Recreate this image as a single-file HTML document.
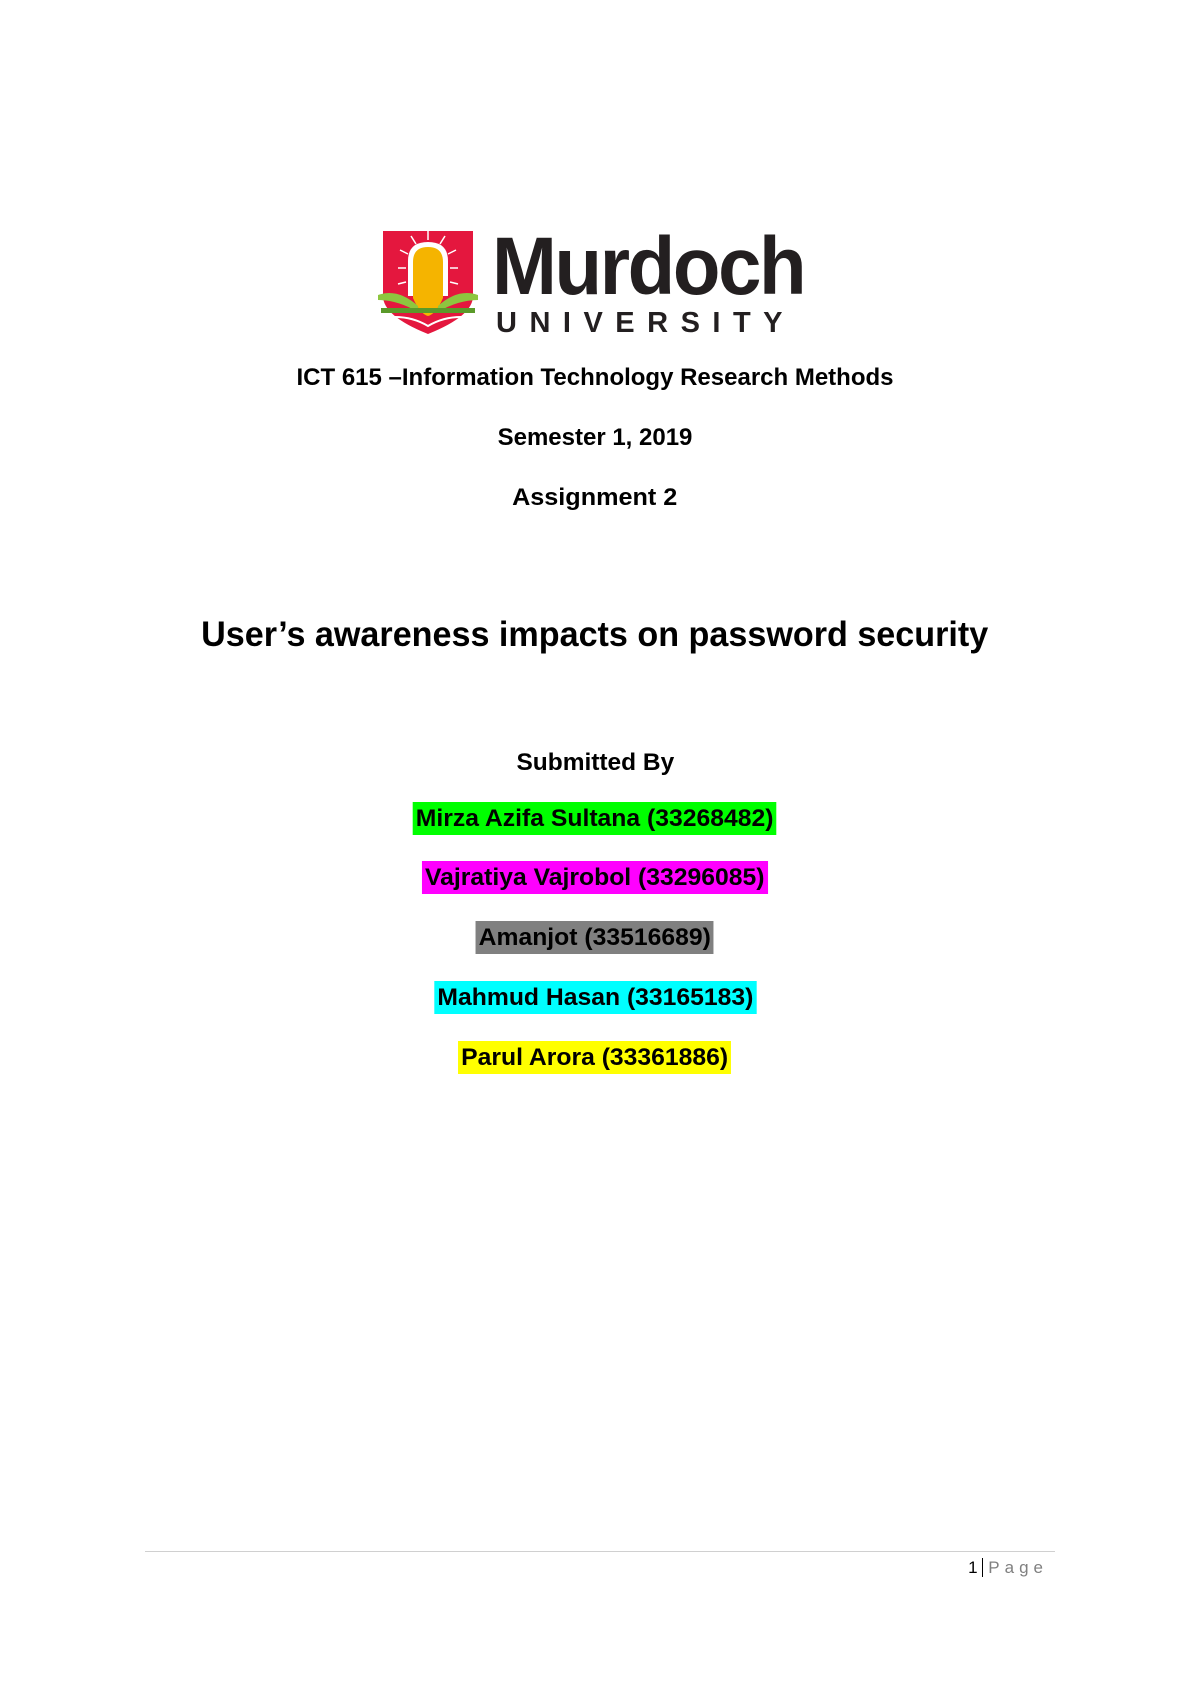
<!DOCTYPE html>
<html><head><meta charset="utf-8"><style>
html,body{margin:0;padding:0;background:#fff;}
body{width:1190px;height:1684px;position:relative;overflow:hidden;font-family:"Liberation Sans",Arial,sans-serif;color:#000;}
.t{position:absolute;left:0;width:1190px;text-align:center;font-weight:bold;white-space:nowrap;}
.t span{display:inline-block;transform:scaleX(1.0);transform-origin:center;}
.n span{padding:3px 3px;line-height:27px;transform:scaleX(1.03);}
</style></head><body>
<svg style="position:absolute;left:378px;top:226px" width="100" height="112" viewBox="0 0 100 112">
<path d="M5 5 H95 V70 Q95 90 50 108 Q5 90 5 70 Z" fill="#e4173e"/>
<g stroke="#fff" stroke-width="1.5">
<line x1="50" y1="14" x2="50" y2="5"/><line x1="38" y1="18" x2="33" y2="10"/><line x1="62" y1="18" x2="67" y2="10"/>
<line x1="30" y1="28" x2="22" y2="24"/><line x1="70" y1="28" x2="78" y2="24"/><line x1="28" y1="42" x2="20" y2="42"/><line x1="72" y1="42" x2="80" y2="42"/>
<line x1="28" y1="56" x2="20" y2="58"/><line x1="72" y1="56" x2="80" y2="58"/></g>
<path d="M30 70 V35 Q30 16 50 16 Q70 16 70 35 V70 Z" fill="#fff"/>
<path d="M35 72 V36 Q35 21 50 21 Q65 21 65 36 V72 Q58 88 50 90 Q42 88 35 72 Z" fill="#f5b400"/>
<path d="M0 69 Q20 62 40 80 L40 86 Q20 74 0 74 Z" fill="#8dc63f"/>
<path d="M100 69 Q80 62 60 80 L60 86 Q80 74 100 74 Z" fill="#8dc63f"/>
<rect x="3" y="82" width="94" height="5" fill="#5a9a2a"/>
<path d="M5 92 Q30 88 50 100 Q70 88 95 92" stroke="#fff" stroke-width="2" fill="none"/>
</svg>
<div style="position:absolute;left:492px;top:222px;font-size:82px;font-weight:bold;color:#231f20;letter-spacing:-2.5px;transform:scaleX(0.95);transform-origin:left;line-height:90px">Murdoch</div>
<div style="position:absolute;left:496px;top:307px;font-size:29px;font-weight:bold;color:#231f20;letter-spacing:12.5px;line-height:32px">UNIVERSITY</div>
<div class="t" style="top:364px;font-size:24px"><span>ICT 615 –Information Technology Research Methods</span></div>
<div class="t" style="top:424px;font-size:24px"><span>Semester 1, 2019</span></div>
<div class="t" style="top:484px;font-size:24px"><span style="transform:scaleX(1.05)">Assignment 2</span></div>
<div class="t" style="top:615px;font-size:35px"><span style="transform:scaleX(0.975)">User’s awareness impacts on password security</span></div>
<div class="t" style="top:749px;font-size:24px"><span style="transform:scaleX(1.02)">Submitted By</span></div>
<div class="t n" style="top:802px;font-size:24px"><span style="background:#00ff00">Mirza Azifa Sultana (33268482)</span></div>
<div class="t n" style="top:861px;font-size:24px"><span style="background:#ff00ff">Vajratiya Vajrobol (33296085)</span></div>
<div class="t n" style="top:921px;font-size:24px"><span style="background:#808080">Amanjot (33516689)</span></div>
<div class="t n" style="top:981px;font-size:24px"><span style="background:#00ffff">Mahmud Hasan (33165183)</span></div>
<div class="t n" style="top:1041px;font-size:24px"><span style="background:#ffff00">Parul Arora (33361886)</span></div>
<div style="position:absolute;left:145px;top:1551px;width:910px;height:1px;background:#d0d0d0"></div>
<div style="position:absolute;right:142px;top:1557px;font-size:17px;line-height:22px;white-space:nowrap"><span>1</span> <span style="border-left:1px solid #000;padding-left:5px;color:#808080;letter-spacing:5px">Page</span></div>
</body></html>
